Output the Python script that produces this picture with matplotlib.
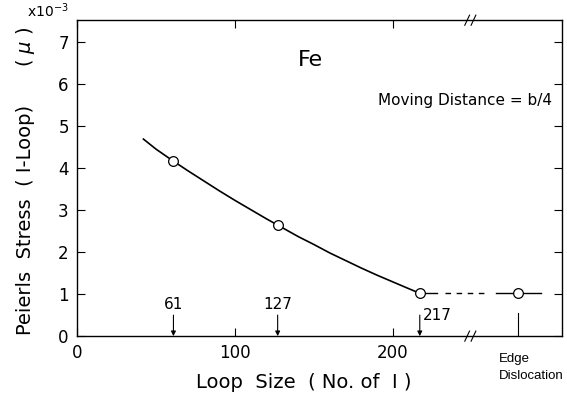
"""Peierls stress of I-loops in Fe versus loop size."""

import matplotlib
import matplotlib.pyplot as plt

matplotlib.use("Agg")

# smooth curve (loop size, stress x1e-3 mu)
curve_x = [42, 50, 60, 70, 80, 90, 100, 110, 120, 130, 140, 150, 160,
           170, 180, 190, 200, 210, 217]
curve_y = [4.69, 4.45, 4.19, 3.94, 3.70, 3.46, 3.23, 3.01, 2.79, 2.58,
           2.37, 2.18, 1.98, 1.80, 1.62, 1.45, 1.29, 1.13, 1.02]

# computed points
point_x = [61, 127, 217]
point_y = [4.17, 2.64, 1.02]

# edge dislocation value, drawn past the axis break
edge_pos = 279
edge_y = 1.02
break_pos = 249

arrow_sizes = [61, 127, 217]
x_ticks = [0, 100, 200]
y_ticks = [0, 1, 2, 3, 4, 5, 6, 7]

plt.rcParams["font.family"] = ["DejaVu Sans"]

fig = plt.figure(figsize=(5.67, 4.04), dpi=100)
ax = fig.add_axes([0.136, 0.168, 0.855, 0.782])

ax.plot(curve_x, curve_y, color="black", linewidth=1.2)
ax.plot(point_x, point_y, "o", markersize=7, markerfacecolor="white",
        markeredgecolor="black", markeredgewidth=0.9, zorder=3)

# link to the edge dislocation value
ax.plot([217, 228], [edge_y, edge_y], color="black", linewidth=1.0)
ax.plot([233, 260], [edge_y, edge_y], color="black", linewidth=1.0,
        linestyle=(0, (4, 4)))
ax.plot([265, 294], [edge_y, edge_y], color="black", linewidth=1.0)
ax.plot([edge_pos], [edge_y], "o", markersize=7, markerfacecolor="white",
        markeredgecolor="black", markeredgewidth=0.9, zorder=3)
ax.plot([edge_pos, edge_pos], [0, 0.55], color="black", linewidth=0.8)

ax.set_xlim(0, 307)
ax.set_ylim(0, 7.52)
ax.set_xticks(x_ticks)
ax.set_yticks(y_ticks)
ax.tick_params(direction="in", length=6, width=0.8, labelsize=12,
               top=True, right=True, pad=6)
ax.tick_params(axis="y", labelright=False)
for spine in ax.spines.values():
    spine.set_linewidth(1.0)

# axis breaks
for yb in (0, 7.52):
    for dx in (-2, 2):
        ax.plot([break_pos + dx - 1.5, break_pos + dx + 1.5],
                [yb - 0.12, yb + 0.12], color="black", linewidth=0.8,
                clip_on=False)

# arrows marking loop sizes
for size in arrow_sizes:
    ax.annotate("", xy=(size, 0), xytext=(size, 0.5),
                arrowprops=dict(arrowstyle="-|>", color="black", lw=0.8,
                                mutation_scale=7, shrinkA=0, shrinkB=0))
ax.text(61, 0.75, "61", ha="center", va="center", fontsize=11)
ax.text(127, 0.75, "127", ha="center", va="center", fontsize=11)
ax.text(219, 0.5, "217", ha="left", va="center", fontsize=11)

ax.text(0.482, 0.873, "Fe", transform=ax.transAxes, fontsize=16,
        ha="center", va="center")
ax.text(0.98, 0.745, "Moving Distance = b/4", transform=ax.transAxes,
        fontsize=11, ha="right", va="center")
ax.text(267, -0.75, "Edge\nDislocation", ha="left", va="center",
        fontsize=9.5, linespacing=1.5, family="Liberation Sans")

ax.text(-0.06, 1.0, r"x$10^{-3}$", transform=ax.transAxes, fontsize=10,
        ha="center", va="bottom")

fig.text(0.045, 0.455, "Peierls  Stress  ( I-Loop)", rotation=90,
         fontsize=14, ha="center", va="center")
fig.text(0.045, 0.884, "( $\\mu$ )", rotation=90, fontsize=14,
         ha="center", va="center")
fig.text(0.535, 0.052, "Loop  Size  ( No. of  I )", fontsize=14,
         ha="center", va="center")

fig.savefig("out.png", dpi=100)
